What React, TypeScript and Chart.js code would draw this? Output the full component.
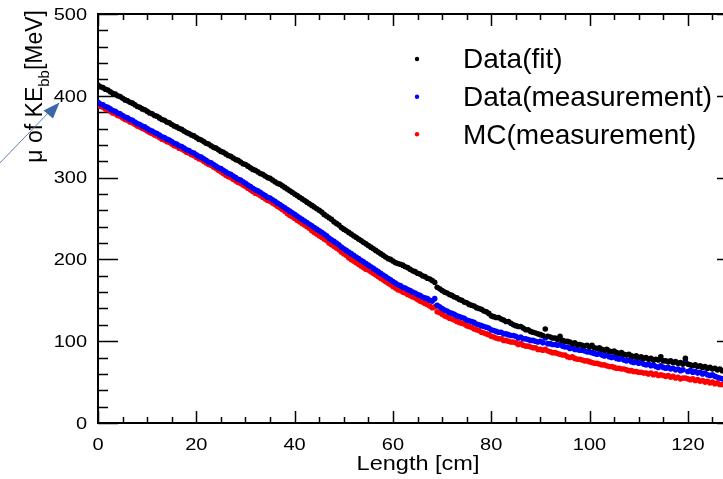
import React, { useEffect, useRef } from "react";
import { Chart, registerables } from "chart.js";

Chart.register(...registerables);

// ---- data (0.5 cm bins) ----
const lengthCm = [
  0, 0.5, 1, 1.5, 2, 2.5, 3, 3.5, 4, 4.5, 5, 5.5, 6, 6.5, 7, 7.5, 8, 8.5, 9, 9.5,
  10, 10.5, 11, 11.5, 12, 12.5, 13, 13.5, 14, 14.5, 15, 15.5, 16, 16.5, 17, 17.5, 18, 18.5, 19, 19.5,
  20, 20.5, 21, 21.5, 22, 22.5, 23, 23.5, 24, 24.5, 25, 25.5, 26, 26.5, 27, 27.5, 28, 28.5, 29, 29.5,
  30, 30.5, 31, 31.5, 32, 32.5, 33, 33.5, 34, 34.5, 35, 35.5, 36, 36.5, 37, 37.5, 38, 38.5, 39, 39.5,
  40, 40.5, 41, 41.5, 42, 42.5, 43, 43.5, 44, 44.5, 45, 45.5, 46, 46.5, 47, 47.5, 48, 48.5, 49, 49.5,
  50, 50.5, 51, 51.5, 52, 52.5, 53, 53.5, 54, 54.5, 55, 55.5, 56, 56.5, 57, 57.5, 58, 58.5, 59, 59.5,
  60, 60.5, 61, 61.5, 62, 62.5, 63, 63.5, 64, 64.5, 65, 65.5, 66, 66.5, 67, 67.5, 68, 68.5, 69, 69.5,
  70, 70.5, 71, 71.5, 72, 72.5, 73, 73.5, 74, 74.5, 75, 75.5, 76, 76.5, 77, 77.5, 78, 78.5, 79, 79.5,
  80, 80.5, 81, 81.5, 82, 82.5, 83, 83.5, 84, 84.5, 85, 85.5, 86, 86.5, 87, 87.5, 88, 88.5, 89, 89.5,
  90, 90.5, 91, 91.5, 92, 92.5, 93, 93.5, 94, 94.5, 95, 95.5, 96, 96.5, 97, 97.5, 98, 98.5, 99, 99.5,
  100, 100.5, 101, 101.5, 102, 102.5, 103, 103.5, 104, 104.5, 105, 105.5, 106, 106.5, 107, 107.5, 108, 108.5, 109, 109.5,
  110, 110.5, 111, 111.5, 112, 112.5, 113, 113.5, 114, 114.5, 115, 115.5, 116, 116.5, 117, 117.5, 118, 118.5, 119, 119.5,
  120, 120.5, 121, 121.5, 122, 122.5, 123, 123.5, 124, 124.5, 125, 125.5, 126, 126.5, 127,
];

const dataFit = [
  413, 411, 410, 408, 407, 405, 403, 402, 400, 399, 397, 395, 394, 392, 391, 389, 387, 386, 384, 383,
  381, 379, 378, 376, 375, 373, 371, 370, 368, 367, 365, 363, 362, 360, 359, 357, 355, 354, 352, 351,
  349, 347, 346, 344, 342, 341, 339, 337, 336, 334, 332, 331, 329, 327, 326, 324, 322, 321, 319, 317,
  316, 314, 312, 310, 309, 307, 305, 304, 302, 300, 299, 297, 295, 293, 292, 290, 288, 286, 284, 282,
  280, 278, 276, 274, 272, 270, 268, 266, 264, 262, 260, 258, 255, 253, 251, 249, 246, 244, 242, 239,
  237, 235, 233, 231, 229, 227, 225, 223, 221, 219, 217, 215, 213, 211, 209, 207, 205, 203, 201, 200,
  198, 196, 195, 194, 193, 191, 190, 188, 186, 185, 183, 182, 180, 179, 177, 176, 174, 172, 166, 164,
  162, 160, 159, 157, 156, 154, 153, 151, 150, 148, 147, 145, 144, 143, 141, 140, 139, 137, 136, 134,
  131, 130, 129, 129, 127, 126, 124, 124, 122, 120, 119, 118, 118, 116, 114, 114, 112, 111, 110, 109,
  108, 107, 115, 106, 105, 104, 104, 102, 106, 101, 100, 100, 99, 97, 98, 96, 96, 95, 94, 95,
  93, 95, 92, 91, 92, 90, 89, 90, 88, 87, 88, 86, 85, 86, 84, 83, 84, 82, 81, 82,
  80, 81, 79, 80, 78, 79, 77, 78, 77, 81, 76, 76, 75, 76, 74, 75, 73, 74, 72, 79,
  72, 71, 70, 71, 69, 70, 68, 69, 67, 68, 66, 67, 65, 66, 64,
];

const dataMeasurement = [
  392, 390, 389, 387, 386, 384, 382, 381, 379, 378, 376, 374, 373, 371, 370, 368, 366, 365, 363, 362,
  360, 358, 357, 355, 354, 352, 350, 349, 347, 346, 344, 342, 341, 339, 338, 336, 334, 333, 331, 330,
  328, 326, 325, 323, 321, 319, 318, 316, 314, 312, 311, 309, 307, 305, 304, 302, 300, 298, 297, 295,
  293, 291, 289, 287, 285, 284, 282, 280, 278, 276, 275, 273, 271, 269, 267, 265, 263, 261, 259, 257,
  255, 253, 251, 249, 247, 245, 243, 241, 239, 237, 235, 233, 231, 229, 226, 224, 222, 220, 218, 215,
  213, 211, 209, 207, 205, 203, 201, 199, 197, 195, 193, 191, 189, 187, 185, 183, 181, 179, 177, 175,
  173, 171, 169, 168, 166, 165, 163, 162, 160, 159, 157, 156, 154, 153, 152, 150, 149, 152, 144, 142,
  140, 138, 137, 135, 134, 133, 131, 130, 129, 128, 126, 125, 124, 123, 121, 120, 119, 118, 117, 116,
  114, 113, 112, 111, 111, 109, 109, 108, 107, 107, 106, 104, 105, 103, 103, 102, 101, 101, 100, 99,
  100, 98, 104, 97, 97, 96, 96, 95, 96, 94, 93, 93, 91, 92, 90, 90, 89, 89, 88, 87,
  87, 86, 85, 84, 85, 83, 82, 83, 81, 80, 81, 79, 78, 79, 77, 76, 77, 75, 74, 75,
  73, 74, 72, 71, 72, 70, 71, 69, 68, 70, 68, 67, 68, 66, 67, 65, 66, 64, 65, 75,
  63, 64, 62, 63, 61, 62, 60, 61, 59, 58, 59, 57, 56, 55, 54,
];

const mcMeasurement = [
  389, 387, 386, 384, 383, 381, 379, 378, 376, 375, 373, 371, 370, 368, 367, 365, 363, 362, 360, 359,
  357, 355, 354, 352, 351, 349, 347, 346, 344, 343, 341, 339, 338, 336, 335, 333, 331, 330, 328, 327,
  325, 323, 322, 320, 318, 316, 315, 313, 311, 309, 307, 305, 303, 301, 300, 298, 296, 294, 293, 291,
  289, 287, 285, 283, 281, 280, 278, 276, 274, 272, 271, 269, 267, 265, 263, 261, 259, 256, 254, 252,
  250, 248, 246, 244, 242, 240, 238, 235, 233, 231, 229, 227, 225, 223, 220, 218, 216, 214, 212, 209,
  207, 205, 202, 200, 198, 196, 194, 192, 190, 188, 187, 185, 183, 181, 179, 177, 175, 173, 171, 169,
  167, 165, 163, 162, 160, 159, 157, 156, 154, 153, 151, 149, 148, 146, 145, 143, 141, 142, 136, 135,
  133, 131, 130, 128, 127, 126, 124, 123, 122, 121, 119, 118, 117, 115, 114, 113, 111, 110, 109, 108,
  106, 105, 104, 103, 103, 101, 101, 100, 99, 99, 98, 96, 97, 95, 94, 94, 93, 92, 92, 90,
  90, 89, 90, 88, 87, 86, 86, 85, 84, 83, 83, 81, 80, 81, 79, 78, 78, 77, 76, 76,
  75, 74, 73, 73, 72, 71, 71, 70, 69, 69, 68, 67, 67, 66, 66, 65, 64, 64, 63, 63,
  62, 62, 61, 61, 60, 61, 59, 60, 58, 59, 58, 57, 58, 56, 57, 55, 56, 54, 55, 55,
  54, 53, 54, 52, 53, 51, 52, 50, 51, 49, 50, 48, 49, 47, 47,
];

const seriesLabels = ["Data(fit)", "Data(measurement)", "MC(measurement)"];
const seriesColors = ["#000000", "#0000ff", "#ff0000"];
const seriesValues = [dataFit, dataMeasurement, mcMeasurement];

const xTickLabels = ["0", "20", "40", "60", "80", "100", "120"];
const yTickLabels = ["0", "100", "200", "300", "400", "500"];
const xAxisTitle = "Length [cm]";
const yTitleMain = "\u03bc of KE";
const yTitleSub = "bb";
const yTitleUnit = "[MeV]";

const X_MIN = 0;
const X_MAX = 130;
const Y_MIN = 0;
const Y_MAX = 500;
const X_MINOR_STEP = 5;
const Y_MINOR_STEP = 20;

const FONT = '"Liberation Sans", Arial, Helvetica, sans-serif';

function stretchedText(
  ctx: CanvasRenderingContext2D,
  text: string,
  x: number,
  y: number,
  sx: number,
  align: CanvasTextAlign
) {
  ctx.save();
  ctx.translate(x, y);
  ctx.scale(sx, 1);
  ctx.textAlign = align;
  ctx.textBaseline = "alphabetic";
  ctx.fillText(text, 0, 0);
  ctx.restore();
}

const rootFramePlugin = {
  id: "rootFrame",
  beforeDatasetsDraw(chart: any) {
    const { ctx, chartArea: a, scales } = chart;
    const xs = scales.x;
    const ys = scales.y;
    ctx.save();
    ctx.strokeStyle = "#000";
    ctx.lineCap = "butt";

    // ticks
    ctx.lineWidth = 1.5;
    ctx.beginPath();
    for (let v = Y_MIN; v <= Y_MAX + 1e-6; v += Y_MINOR_STEP) {
      const py = Math.round(ys.getPixelForValue(v)) + 0.5;
      const major = v % 100 === 0;
      const len = major ? 20 : 10;
      ctx.moveTo(a.left, py);
      ctx.lineTo(a.left + len, py);
      ctx.moveTo(a.right, py);
      ctx.lineTo(a.right - len, py);
    }
    for (let v = X_MIN; v <= X_MAX + 1e-6; v += X_MINOR_STEP) {
      const px = Math.round(xs.getPixelForValue(v)) + 0.5;
      const major = v % 20 === 0;
      const len = major ? 12 : 6;
      ctx.moveTo(px, a.bottom);
      ctx.lineTo(px, a.bottom - len);
      ctx.moveTo(px, a.top);
      ctx.lineTo(px, a.top + len);
    }
    ctx.stroke();

    // frame
    ctx.lineWidth = 2;
    ctx.strokeRect(a.left, a.top, a.right - a.left, a.bottom - a.top);

    // tick labels
    ctx.fillStyle = "#000";
    ctx.font = `16px ${FONT}`;
    yTickLabels.forEach((lab) => {
      const py = ys.getPixelForValue(Number(lab));
      stretchedText(ctx, lab, a.left - 11, py + 5.8, 1.25, "right");
    });
    xTickLabels.forEach((lab) => {
      const px = xs.getPixelForValue(Number(lab));
      stretchedText(ctx, lab, px, 450, 1.25, "center");
    });

    // x axis title
    ctx.font = `21px ${FONT}`;
    stretchedText(ctx, xAxisTitle, 418, 470, 1.12, "center");

    // y axis title (rotated)
    ctx.save();
    ctx.translate(41.5, 10);
    ctx.rotate(-Math.PI / 2);
    ctx.textBaseline = "alphabetic";
    ctx.textAlign = "right";
    ctx.font = `23px ${FONT}`;
    ctx.fillText(yTitleUnit, 0, 0);
    const w1 = ctx.measureText(yTitleUnit).width;
    ctx.font = `15px ${FONT}`;
    ctx.fillText(yTitleSub, -w1, 7.5);
    const w2 = ctx.measureText(yTitleSub).width;
    ctx.font = `23px ${FONT}`;
    ctx.fillText(yTitleMain, -w1 - w2, 0);
    ctx.restore();

    ctx.restore();
  },
  afterDraw(chart: any) {
    const { ctx } = chart;
    ctx.save();
    // legend
    const rowY = [59, 96.7, 134.3];
    ctx.font = `28px ${FONT}`;
    ctx.textAlign = "left";
    ctx.textBaseline = "alphabetic";
    seriesLabels.forEach((lab, i) => {
      ctx.fillStyle = seriesColors[i];
      ctx.beginPath();
      ctx.arc(417, rowY[i], 2.2, 0, Math.PI * 2);
      ctx.fill();
      ctx.fillStyle = "#000";
      ctx.fillText(lab, 463, rowY[i] + 9.3);
    });

    // annotation arrow
    ctx.strokeStyle = "#5a82b6";
    ctx.lineWidth = 1;
    ctx.beginPath();
    ctx.moveTo(-5, 168);
    ctx.lineTo(52, 109);
    ctx.stroke();
    ctx.fillStyle = "#3a68a6";
    ctx.beginPath();
    ctx.moveTo(59.5, 102.5);
    ctx.lineTo(43.5, 110.5);
    ctx.lineTo(53, 118.5);
    ctx.closePath();
    ctx.fill();
    ctx.restore();
  },
};

export default function App() {
  const canvasRef = useRef<HTMLCanvasElement | null>(null);

  useEffect(() => {
    const canvas = canvasRef.current;
    if (!canvas) return;
    const datasets = seriesLabels.map((label, i) => ({
      label,
      data: lengthCm.map((x, j) => ({ x, y: seriesValues[i][j] })),
      backgroundColor: seriesColors[i],
      borderColor: seriesColors[i],
      pointRadius: 2.8,
      pointBorderWidth: 0,
      pointHoverRadius: 2.8,
      showLine: false,
      order: i,
    }));
    const chart = new Chart(canvas, {
      type: "scatter",
      data: { datasets },
      options: {
        animation: false,
        responsive: false,
        devicePixelRatio: 1,
        events: [],
        layout: { padding: { left: 98, right: 23, top: 14, bottom: 56 } },
        plugins: { legend: { display: false }, tooltip: { enabled: false } },
        scales: {
          x: { type: "linear", min: X_MIN, max: X_MAX, display: false },
          y: { type: "linear", min: Y_MIN, max: Y_MAX, display: false },
        },
      },
      plugins: [rootFramePlugin],
    });
    return () => chart.destroy();
  }, []);

  return (
    <div
      style={{
        position: "fixed",
        left: 0,
        top: 0,
        width: 723,
        height: 479,
        overflow: "hidden",
        background: "#ffffff",
      }}
    >
      <canvas ref={canvasRef} width={760} height={479} style={{ display: "block" }} />
    </div>
  );
}
